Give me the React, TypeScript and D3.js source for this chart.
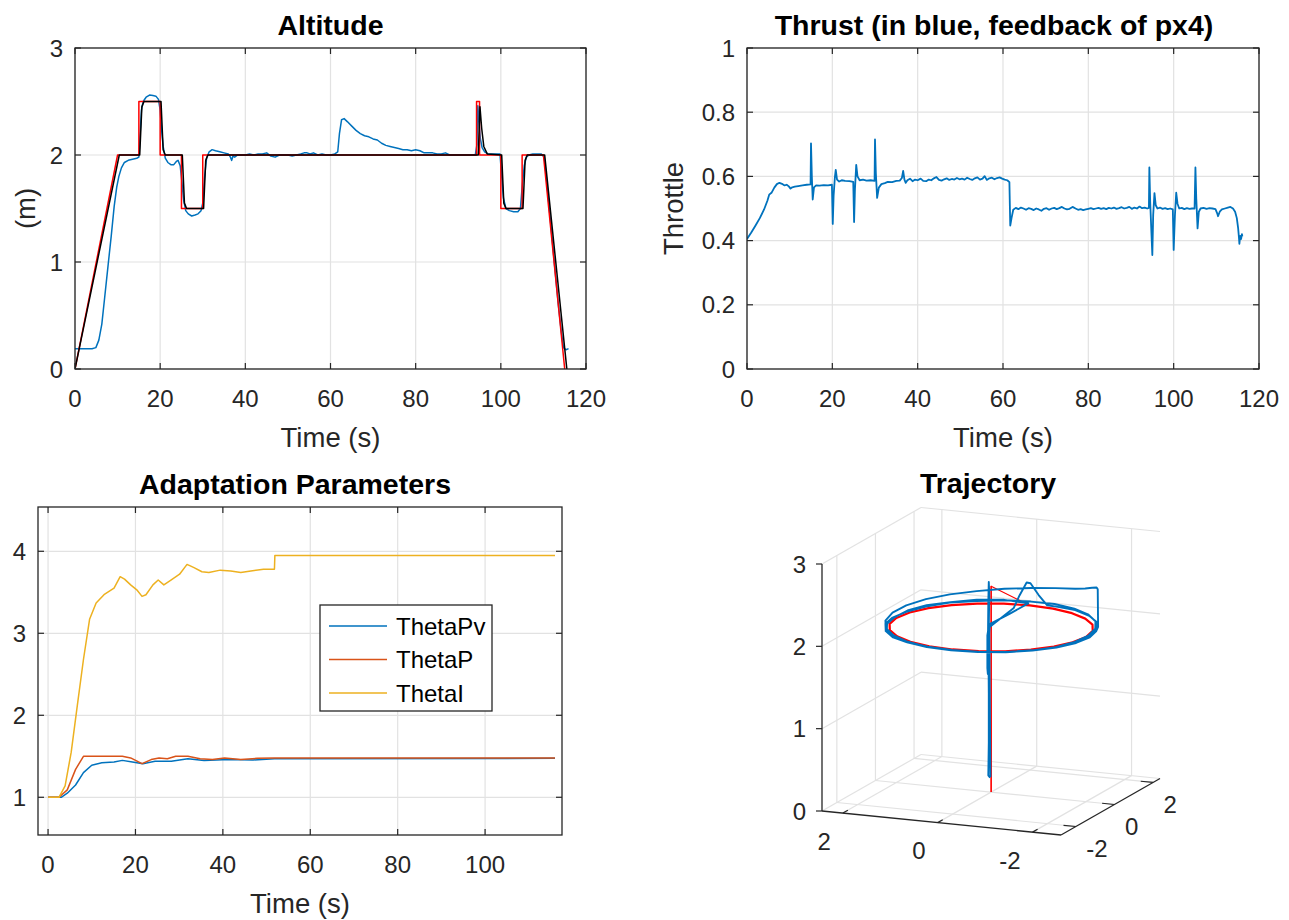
import React from 'react';
import * as d3 from 'd3';

const FONT = '"Liberation Sans", Arial, Helvetica, sans-serif';
const AX = '#262626';
const GRID = '#e2e2e2';
const BLUE = '#0072bd';
const ORANGE = '#d95319';
const YELLOW = '#edb120';
const RED = '#ff0000';

// ---------- Altitude ----------
const altXTicks = [0, 20, 40, 60, 80, 100, 120];
const altYTicks = [0, 1, 2, 3];
const altRef = [
  [0, 0], [10, 2], [15, 2], [15, 2.5], [20, 2.5], [20, 2], [25, 2], [25, 1.5], [30, 1.5], [30, 2],
  [94.3, 2], [94.3, 2.5], [95, 2.5], [95, 2], [100, 2], [100, 1.5], [105, 1.5], [105, 2], [110, 2], [115, 0],
];
const altFiltered = [
  [0, 0], [10.4, 2], [15.2, 2], [15.7, 2.45], [16.2, 2.5], [20.2, 2.5], [20.7, 2.05], [21.2, 2], [25.2, 2],
  [25.7, 1.55], [26.2, 1.5], [30.2, 1.5], [30.7, 1.95], [31.2, 2], [94.7, 2], [95.1, 2.45], [95.5, 2.25],
  [96, 2.08], [96.8, 2.01], [100.2, 2], [100.7, 1.55], [101.2, 1.5], [105.2, 1.5], [105.7, 1.95], [106.2, 2],
  [110.3, 2], [115.5, 0],
];
const altMeasured = [
  [0, 0.19], [2, 0.19], [4, 0.19], [4.9, 0.2], [5.6, 0.27], [6.3, 0.42], [7.0, 0.68], [7.8, 0.98], [8.5, 1.24],
  [9.2, 1.52], [9.8, 1.7], [10.3, 1.8], [10.9, 1.88], [11.6, 1.93], [12.5, 1.95], [13.5, 1.96], [14.5, 1.97],
  [15.0, 1.98], [15.3, 2.2], [15.6, 2.42], [16.0, 2.5], [16.7, 2.54], [17.5, 2.56], [18.3, 2.555], [19.0, 2.55],
  [19.6, 2.52], [20.0, 2.42], [20.3, 2.25], [20.7, 2.08], [21.2, 1.97], [21.8, 1.93], [22.5, 1.91], [23.2, 1.91],
  [23.8, 1.94], [24.2, 1.95], [24.7, 1.9], [25.1, 1.75], [25.5, 1.58], [26.0, 1.48], [26.6, 1.45], [27.4, 1.43],
  [28.2, 1.44], [28.9, 1.45], [29.6, 1.48], [30.0, 1.55], [30.4, 1.78], [30.9, 1.97], [31.5, 2.03], [32.2, 2.05],
  [33.0, 2.04], [34.0, 2.03], [35.0, 2.02], [36.0, 2.01], [36.5, 1.98], [36.8, 1.95], [37.1, 1.99], [37.5, 1.98],
  [38.2, 2.0], [39.0, 2.0], [40.0, 2.0], [41.0, 2.01], [42.0, 2.0], [43.0, 2.01], [44.0, 2.01], [45.0, 2.02],
  [46.0, 1.99], [47.0, 1.98], [48.0, 2.0], [49.0, 2.0], [50.0, 2.0], [51.0, 1.99], [52.0, 2.0], [53.0, 2.01],
  [53.8, 2.02], [54.5, 2.02], [55.2, 2.01], [56.0, 2.02], [57.0, 2.0], [58.0, 2.01], [59.0, 2.0], [60.0, 2.0],
  [61.0, 2.01], [61.7, 2.03], [62.1, 2.2], [62.6, 2.33], [63.2, 2.34], [64.0, 2.31], [65.0, 2.27], [66.0, 2.23],
  [67.0, 2.2], [68.0, 2.18], [69.0, 2.17], [70.0, 2.15], [71.0, 2.14], [72.0, 2.11], [73.0, 2.09], [74.0, 2.08],
  [75.0, 2.07], [76.0, 2.06], [77.0, 2.05], [78.0, 2.05], [79.0, 2.04], [80.0, 2.05], [81.0, 2.04], [82.0, 2.02],
  [83.0, 2.02], [84.0, 2.02], [85.0, 2.01], [86.0, 2.01], [87.0, 2.02], [88.0, 2.0], [90.0, 2.0], [92.0, 2.0],
  [94.0, 2.0], [94.4, 2.1], [94.6, 2.46], [94.9, 2.3], [95.2, 2.15], [95.6, 2.07], [96.2, 2.03], [97.0, 2.01],
  [98.0, 2.01], [99.0, 2.01], [99.8, 2.01], [100.2, 1.8], [100.6, 1.6], [101.2, 1.5], [102.0, 1.48], [103.0, 1.47],
  [104.0, 1.47], [104.6, 1.5], [105.0, 1.7], [105.5, 1.9], [106.0, 1.98], [106.6, 2.0], [107.5, 2.01], [108.5, 2.01],
  [109.5, 2.01], [110.2, 1.98], [110.8, 1.75], [111.5, 1.45], [112.5, 1.02], [113.5, 0.6], [114.2, 0.35],
  [114.7, 0.2], [115.3, 0.18], [115.9, 0.19],
];

// ---------- Thrust ----------
const thrXTicks = [0, 20, 40, 60, 80, 100, 120];
const thrYTicks = [0, 0.2, 0.4, 0.6, 0.8, 1];
const thrust = [
  [0.0, 0.405], [1.0, 0.425], [2.0, 0.447], [3.0, 0.47], [4.0, 0.497], [4.8, 0.525], [5.2, 0.543], [5.8, 0.55],
  [6.4, 0.565], [7.0, 0.576], [7.6, 0.58], [8.2, 0.577], [8.8, 0.572], [9.3, 0.574], [9.8, 0.569], [10.2, 0.562],
  [10.6, 0.566], [11.2, 0.568], [12.0, 0.57], [13.0, 0.572], [14.0, 0.574], [14.9, 0.575], [15.0, 0.703],
  [15.2, 0.6], [15.4, 0.528], [15.7, 0.566], [16.2, 0.572], [17.0, 0.571], [18.0, 0.573], [19.0, 0.572],
  [19.9, 0.574], [20.1, 0.452], [20.3, 0.54], [20.6, 0.598], [20.8, 0.62], [21.1, 0.59], [21.6, 0.584],
  [22.2, 0.588], [23.0, 0.586], [24.0, 0.585], [24.9, 0.583], [25.1, 0.458], [25.3, 0.56], [25.6, 0.636],
  [25.9, 0.6], [26.4, 0.588], [27.2, 0.59], [28.0, 0.587], [29.0, 0.588], [29.9, 0.586], [30.0, 0.715],
  [30.2, 0.61], [30.5, 0.533], [30.9, 0.565], [31.5, 0.576], [32.3, 0.579], [33.0, 0.583], [34.0, 0.582],
  [35.0, 0.586], [35.8, 0.587], [36.3, 0.595], [36.6, 0.617], [36.9, 0.59], [37.2, 0.58], [37.6, 0.588],
  [38.2, 0.593], [38.8, 0.585], [39.4, 0.59], [40.0, 0.588], [40.7, 0.593], [41.3, 0.586], [42.0, 0.585],
  [42.6, 0.59], [43.2, 0.588], [43.8, 0.594], [44.4, 0.598], [45.0, 0.589], [45.6, 0.587], [46.2, 0.591],
  [46.8, 0.594], [47.4, 0.589], [48.0, 0.592], [48.6, 0.59], [49.2, 0.595], [49.8, 0.591], [50.4, 0.593],
  [51.0, 0.59], [51.6, 0.596], [52.2, 0.592], [52.8, 0.589], [53.4, 0.594], [54.0, 0.597], [54.6, 0.59],
  [55.2, 0.593], [55.7, 0.601], [56.2, 0.589], [56.8, 0.594], [57.4, 0.596], [58.0, 0.591], [58.6, 0.595],
  [59.2, 0.597], [59.8, 0.593], [60.4, 0.59], [61.0, 0.588], [61.5, 0.582], [61.7, 0.447], [62.0, 0.47],
  [62.4, 0.496], [63.0, 0.502], [63.6, 0.498], [64.2, 0.503], [64.8, 0.5], [65.4, 0.496], [66.0, 0.501],
  [66.6, 0.499], [67.2, 0.495], [67.8, 0.5], [68.4, 0.497], [69.0, 0.493], [69.6, 0.499], [70.2, 0.501],
  [70.8, 0.496], [71.4, 0.5], [72.0, 0.502], [72.6, 0.498], [73.2, 0.501], [73.8, 0.505], [74.4, 0.5],
  [75.0, 0.497], [75.6, 0.499], [76.3, 0.505], [77.0, 0.5], [77.6, 0.496], [78.2, 0.498], [78.8, 0.495],
  [79.4, 0.497], [80.0, 0.499], [80.6, 0.501], [81.2, 0.498], [81.8, 0.5], [82.4, 0.502], [83.0, 0.499],
  [83.6, 0.501], [84.2, 0.498], [84.8, 0.502], [85.4, 0.5], [86.0, 0.503], [86.6, 0.499], [87.2, 0.501],
  [87.8, 0.504], [88.4, 0.5], [89.0, 0.502], [89.6, 0.505], [90.2, 0.499], [90.8, 0.503], [91.4, 0.5],
  [92.0, 0.506], [92.6, 0.501], [93.2, 0.503], [93.8, 0.5], [94.2, 0.502], [94.3, 0.628], [94.5, 0.52],
  [94.8, 0.42], [95.0, 0.355], [95.2, 0.48], [95.5, 0.548], [95.8, 0.51], [96.2, 0.5], [96.8, 0.503],
  [97.4, 0.499], [98.0, 0.501], [98.6, 0.498], [99.2, 0.5], [99.8, 0.497], [100.0, 0.371], [100.3, 0.48],
  [100.6, 0.549], [100.9, 0.515], [101.3, 0.5], [101.9, 0.502], [102.5, 0.498], [103.1, 0.501], [103.7, 0.499],
  [104.3, 0.5], [104.9, 0.5], [105.1, 0.628], [105.3, 0.53], [105.6, 0.438], [105.9, 0.49], [106.3, 0.5],
  [107.0, 0.502], [107.7, 0.499], [108.4, 0.501], [109.1, 0.5], [109.8, 0.498], [110.2, 0.485], [110.4, 0.476],
  [110.8, 0.49], [111.3, 0.497], [112.0, 0.5], [112.7, 0.503], [113.3, 0.505], [113.9, 0.5], [114.4, 0.49],
  [114.8, 0.47], [115.1, 0.44], [115.3, 0.41], [115.4, 0.39], [115.6, 0.415], [115.8, 0.405], [116.0, 0.42],
  [116.1, 0.413],
];

// ---------- Adaptation parameters ----------
const adaXTicks = [0, 20, 40, 60, 80, 100];
const adaYTicks = [1, 2, 3, 4];
const legendNames = ['ThetaPv', 'ThetaP', 'ThetaI'];
const thetaPv = [
  [0, 1], [3.0, 1], [4.4, 1.05], [6.3, 1.15], [8.1, 1.3], [10, 1.39], [12.3, 1.42], [15.1, 1.43], [17, 1.45],
  [19.3, 1.43], [21.7, 1.41], [24.5, 1.44], [28.2, 1.44], [32, 1.47], [35.7, 1.45], [41.3, 1.46], [46.9, 1.455],
  [51.8, 1.47], [116, 1.475],
];
const thetaP = [
  [0, 1], [2.5, 1], [4.4, 1.09], [6.3, 1.34], [8.1, 1.5], [17, 1.5], [18.9, 1.48], [21.5, 1.41], [23.6, 1.46],
  [25.4, 1.48], [27.3, 1.47], [29.2, 1.5], [32, 1.5], [34.8, 1.47], [37.6, 1.46], [40.4, 1.48], [44.1, 1.46],
  [47.9, 1.475], [51.8, 1.48], [116, 1.48],
];
const thetaI = [
  [0, 1], [2.5, 1], [3.9, 1.14], [5.3, 1.55], [6.7, 2.12], [8.1, 2.68], [9.5, 3.17], [11.0, 3.37], [12.8, 3.47],
  [15.1, 3.55], [16.5, 3.69], [17.5, 3.66], [18.9, 3.59], [20.3, 3.53], [21.5, 3.45], [22.4, 3.47], [24.0, 3.59],
  [25.2, 3.65], [26.5, 3.59], [28.2, 3.65], [30.1, 3.72], [31.8, 3.84], [33.4, 3.8], [35.2, 3.75], [36.8, 3.74],
  [39.4, 3.77], [41.8, 3.76], [44.1, 3.74], [46.4, 3.76], [49.3, 3.78], [51.8, 3.78], [51.9, 3.95], [116, 3.95],
];

// ---------- Trajectory (x, y, z) ----------
const trajTicks = [-2, 0, 2];
const trajZTicks = [0, 1, 2, 3];
const refClimb = [[0, 0, 0], [0, 0, 2], [0, 0, 2.5], [0, 0, 2], [0, 0, 1.5], [0, 0, 2]];
const refCircle = [
  [0, 2, 2], [0.52, 1.93, 2], [1, 1.73, 2], [1.41, 1.41, 2], [1.73, 1, 2], [1.93, 0.52, 2], [2, 0, 2],
  [1.93, -0.52, 2], [1.73, -1, 2], [1.41, -1.41, 2], [1, -1.73, 2], [0.52, -1.93, 2], [0, -2, 2],
  [-0.52, -1.93, 2], [-1, -1.73, 2], [-1.41, -1.41, 2], [-1.73, -1, 2], [-1.93, -0.52, 2], [-2, 0, 2],
  [-1.93, 0.52, 2], [-1.73, 1, 2], [-1.41, 1.41, 2], [-1, 1.73, 2], [-0.52, 1.93, 2], [0, 2, 2],
];
const refReturn = [[0, 2, 2], [0, 0, 2.5], [0, 0, 2], [0, 0, 1.5], [0, 0, 2], [0, 0, 0]];
const measTraj = [
  [0.03, 0.02, 0.17], [0.06, 0, 0.2], [0.05, 0, 0.6], [0.05, 0, 1.2], [0.06, 0, 1.96], [0.05, 0, 1.98],
  [0.04, 0, 2.4], [0.05, 0, 2.55], [0.06, 0, 2.3], [0.07, 0.01, 1.95], [0.08, 0, 1.9], [0.08, 0, 1.5],
  [0.07, 0, 1.43], [0.06, 0, 1.48], [0.05, 0.01, 2.0], [0.03, 0.02, 2.04], [0.02, 1.0, 2.03], [0.04, 2.02, 2.02],
  [0.53, 1.98, 2.04], [1.03, 1.78, 2.04], [1.45, 1.45, 2.03], [1.78, 1.03, 2.03], [1.98, 0.53, 2.02], [2.05, 0, 2.0],
  [1.98, -0.53, 2.0], [1.78, -1.03, 2.0], [1.45, -1.45, 2.0], [1.03, -1.78, 2.0], [0.53, -1.98, 2.0], [0, -2.05, 2.0],
  [-0.53, -1.98, 2.0], [-1.03, -1.78, 2.0], [-1.45, -1.45, 2.0], [-1.78, -1.03, 2.0], [-1.98, -0.53, 2.01],
  [-2.05, 0, 2.02], [-1.98, 0.53, 2.03], [-1.78, 1.03, 2.04], [-1.45, 1.45, 2.05], [-1.03, 1.78, 2.05],
  [-0.53, 1.98, 2.05], [0, 2.05, 2.04],
  [0.54, 2.01, 2.03], [1.04, 1.8, 2.02], [1.47, 1.47, 2.02], [1.8, 1.04, 2.01], [2.01, 0.54, 2.0], [2.08, 0, 2.0],
  [2.01, -0.54, 2.0], [1.8, -1.04, 1.99], [1.47, -1.47, 1.99], [1.04, -1.8, 2.0], [0.54, -2.01, 2.0], [0, -2.08, 2.0],
  [-0.54, -2.01, 2.0], [-1.04, -1.8, 2.0], [-1.47, -1.47, 2.0], [-1.8, -1.04, 2.0], [-2.01, -0.54, 2.0],
  [-2.08, 0, 2.0], [-2.03, 0.45, 2.01], [-1.95, 0.75, 2.02],
  [-1.93, 0.78, 2.47], [-1.8, 1.04, 2.45], [-1.6, 1.3, 2.4], [-1.34, 1.58, 2.34], [-1.04, 1.8, 2.29],
  [-0.54, 2.01, 2.24], [0, 2.08, 2.2], [0.54, 2.01, 2.17], [1.04, 1.8, 2.14], [1.47, 1.47, 2.12], [1.8, 1.04, 2.1],
  [2.01, 0.54, 2.08], [2.08, 0, 2.06], [2.01, -0.54, 2.04], [1.8, -1.04, 2.03], [1.47, -1.47, 2.02],
  [1.04, -1.8, 2.01], [0.54, -2.01, 2.0], [0, -2.08, 2.0], [-0.54, -2.01, 2.0], [-1.04, -1.8, 2.0],
  [-1.47, -1.47, 2.0], [-1.8, -1.04, 2.0], [-2.01, -0.54, 2.0], [-2.08, 0, 2.01], [-2.01, 0.54, 2.02],
  [-1.8, 1.04, 2.03], [-1.47, 1.47, 2.03], [-1.04, 1.8, 2.03], [-0.6, 1.98, 2.02], [-0.36, 2.02, 2.02],
  [-0.35, 1.6, 2.2], [-0.3, 1.3, 2.38], [-0.26, 1.2, 2.4], [-0.15, 1.1, 2.25], [-0.05, 1.05, 2.1],
  [0.04, 0.02, 2.0],
  [0.06, 0, 1.7], [0.07, 0, 1.47], [0.06, 0.01, 1.5], [0.05, 0, 1.98], [0.04, 0, 2.0], [0.03, 0, 1.2],
  [0.02, 0, 0.5], [0.02, 0.01, 0.18],
];

type Box = { left: number; right: number; top: number; bottom: number };
type Series = { pts: number[][]; color: string; width?: number };

const fmt = d3.format('~g');

function Axes2D(props: {
  id: string;
  box: Box;
  xDom: number[];
  yDom: number[];
  xTicks: number[];
  yTicks: number[];
  title: string;
  titleX?: number;
  xLabel: string;
  yLabel?: string;
  yLabelX?: number;
  series: Series[];
  children?: React.ReactNode;
}) {
  const { id, box, xDom, yDom, xTicks, yTicks, title, xLabel, yLabel, series } = props;
  const x = d3.scaleLinear().domain(xDom).range([box.left, box.right]);
  const y = d3.scaleLinear().domain(yDom).range([box.bottom, box.top]);
  const line = d3.line<number[]>().x((d) => x(d[0])).y((d) => y(d[1]));
  const cx = (box.left + box.right) / 2;
  const cy = (box.top + box.bottom) / 2;
  const tk = 6;
  return (
    <g>
      <defs>
        <clipPath id={id}>
          <rect x={box.left} y={box.top} width={box.right - box.left} height={box.bottom - box.top} />
        </clipPath>
      </defs>
      <rect x={box.left} y={box.top} width={box.right - box.left} height={box.bottom - box.top} fill="#fff" />
      {xTicks.map((t) => (
        <line key={'gx' + t} x1={x(t)} x2={x(t)} y1={box.top} y2={box.bottom} stroke={GRID} strokeWidth={1.2} />
      ))}
      {yTicks.map((t) => (
        <line key={'gy' + t} x1={box.left} x2={box.right} y1={y(t)} y2={y(t)} stroke={GRID} strokeWidth={1.2} />
      ))}
      <g clipPath={`url(#${id})`}>
        {series.map((s, i) => (
          <path key={i} d={line(s.pts) || ''} fill="none" stroke={s.color} strokeWidth={s.width || 1.5} strokeLinejoin="round" />
        ))}
      </g>
      {xTicks.map((t) => (
        <g key={'tx' + t}>
          <line x1={x(t)} x2={x(t)} y1={box.bottom} y2={box.bottom - tk} stroke={AX} strokeWidth={1.2} />
          <line x1={x(t)} x2={x(t)} y1={box.top} y2={box.top + tk} stroke={AX} strokeWidth={1.2} />
          <text x={x(t)} y={box.bottom + 38} textAnchor="middle" fontSize={24} fill={AX}>{fmt(t)}</text>
        </g>
      ))}
      {yTicks.map((t) => (
        <g key={'ty' + t}>
          <line x1={box.left} x2={box.left + tk} y1={y(t)} y2={y(t)} stroke={AX} strokeWidth={1.2} />
          <line x1={box.right} x2={box.right - tk} y1={y(t)} y2={y(t)} stroke={AX} strokeWidth={1.2} />
          <text x={box.left - 12} y={y(t)} dy="0.36em" textAnchor="end" fontSize={24} fill={AX}>{fmt(t)}</text>
        </g>
      ))}
      <rect x={box.left} y={box.top} width={box.right - box.left} height={box.bottom - box.top} fill="none" stroke={AX} strokeWidth={1.3} />
      <text x={props.titleX ?? cx} y={box.top - 13} textAnchor="middle" fontSize={28.5} fontWeight="bold" fill="#000">{title}</text>
      <text x={cx} y={box.bottom + 78} textAnchor="middle" fontSize={27.5} fill={AX}>{xLabel}</text>
      {yLabel && (
        <text transform={`translate(${props.yLabelX},${cy}) rotate(-90)`} dy="0.36em" textAnchor="middle" fontSize={27.5} fill={AX}>{yLabel}</text>
      )}
      {props.children}
    </g>
  );
}

function Legend(props: { x: number; y: number; w: number; h: number; names: string[]; colors: string[] }) {
  const { x, y, w, h, names, colors } = props;
  const row = d3.scalePoint().domain(names).range([y + 21, y + h - 18]);
  return (
    <g>
      <rect x={x} y={y} width={w} height={h} fill="#fff" stroke={AX} strokeWidth={1.3} />
      {names.map((n, i) => (
        <g key={n}>
          <line x1={x + 9} x2={x + 67} y1={row(n)} y2={row(n)} stroke={colors[i]} strokeWidth={1.5} />
          <text x={x + 76} y={row(n)} dy="0.36em" fontSize={24} fill="#000">{n}</text>
        </g>
      ))}
    </g>
  );
}

function Trajectory3D() {
  // screen corners of the box floor: A = (xMax, yMin), B = (xMin, yMin), D = (xMax, yMax)
  const A = [822, 811];
  const B = [1061, 835];
  const D = [921, 754.5];
  const zH = 247;
  const xLim = [-2.6, 2.44];
  const yLim = [-2.77, 2.36];
  const fx = d3.scaleLinear().domain([xLim[1], xLim[0]]).range([0, 1]);
  const fy = d3.scaleLinear().domain([yLim[0], yLim[1]]).range([0, 1]);
  const fz = d3.scaleLinear().domain([0, 3]).range([0, zH]);
  const P = (p: number[]): [number, number] => {
    const a = fx(p[0]);
    const b = fy(p[1]);
    return [
      A[0] + a * (B[0] - A[0]) + b * (D[0] - A[0]),
      A[1] + a * (B[1] - A[1]) + b * (D[1] - A[1]) - fz(p[2]),
    ];
  };
  const line = d3.line<number[]>().x((d) => P(d)[0]).y((d) => P(d)[1]);
  const seg = (p: number[], q: number[], stroke: string, w: number, key: string) => {
    const [x1, y1] = P(p);
    const [x2, y2] = P(q);
    return <line key={key} x1={x1} y1={y1} x2={x2} y2={y2} stroke={stroke} strokeWidth={w} />;
  };
  const [x0, x1] = xLim;
  const [y0, y1] = yLim;
  const grid: React.ReactNode[] = [];
  trajTicks.forEach((v) => {
    grid.push(seg([v, y0, 0], [v, y1, 0], GRID, 1.2, 'fx' + v));
    grid.push(seg([x0, v, 0], [x1, v, 0], GRID, 1.2, 'fy' + v));
    grid.push(seg([x1, v, 0], [x1, v, 3], GRID, 1.2, 'wy' + v));
    grid.push(seg([v, y1, 0], [v, y1, 3], GRID, 1.2, 'wx' + v));
  });
  trajZTicks.forEach((v) => {
    grid.push(seg([x1, y0, v], [x1, y1, v], GRID, 1.2, 'za' + v));
    grid.push(seg([x1, y1, v], [x0, y1, v], GRID, 1.2, 'zb' + v));
  });
  const tl = 0.13;
  return (
    <g>
      {grid}
      {seg([x1, y0, 0], [x0, y0, 0], AX, 1.3, 'ax')}
      {seg([x0, y0, 0], [x0, y1, 0], AX, 1.3, 'ay')}
      {seg([x1, y0, 0], [x1, y0, 3], AX, 1.3, 'az')}
      {trajTicks.map((v) => {
        const [tx, ty] = P([v, y0, 0]);
        return (
          <g key={'xt' + v}>
            {seg([v, y0, 0], [v, y0 + tl * 2, 0], AX, 1.2, 'xtk')}
            <text x={tx - 12} y={ty + 28} dy="0.36em" textAnchor="end" fontSize={24} fill={AX}>{String(v)}</text>
          </g>
        );
      })}
      {trajTicks.map((v) => {
        const [tx, ty] = P([x0, v, 0]);
        return (
          <g key={'yt' + v}>
            {seg([x0, v, 0], [x0 + tl * 2, v, 0], AX, 1.2, 'ytk')}
            <text x={tx + 10.5} y={ty + 22} dy="0.36em" textAnchor="start" fontSize={24} fill={AX}>{String(v)}</text>
          </g>
        );
      })}
      {trajZTicks.map((v) => {
        const [tx, ty] = P([x1, y0, v]);
        return (
          <g key={'zt' + v}>
            <line x1={tx} x2={tx - 6} y1={ty} y2={ty} stroke={AX} strokeWidth={1.2} />
            <text x={tx - 16} y={ty} dy="0.36em" textAnchor="end" fontSize={24} fill={AX}>{String(v)}</text>
          </g>
        );
      })}
      <path d={line(refCircle) || ''} fill="none" stroke={RED} strokeWidth={2.2} strokeLinejoin="round" />
      {[refClimb, refReturn].map((r, i) => (
        <path key={'r' + i} d={line(r) || ''} fill="none" stroke={RED} strokeWidth={1.2} strokeLinejoin="round" />
      ))}
      <path d={line(measTraj) || ''} fill="none" stroke={BLUE} strokeWidth={1.9} strokeLinejoin="round" />
      <text x={988} y={493} textAnchor="middle" fontSize={28.5} fontWeight="bold" fill="#000">Trajectory</text>
    </g>
  );
}

export default function App() {
  return (
    <svg
      width={1289}
      height={920}
      style={{ position: 'absolute', left: 0, top: 0, background: '#fff' }}
      fontFamily={FONT}
    >
      <Axes2D
        id="alt"
        box={{ left: 75, right: 586, top: 48, bottom: 369 }}
        xDom={[0, 120]}
        yDom={[0, 3]}
        xTicks={altXTicks}
        yTicks={altYTicks}
        title="Altitude"
        xLabel="Time (s)"
        yLabel="(m)"
        yLabelX={25}
        series={[
          { pts: altMeasured, color: BLUE },
          { pts: altRef, color: RED },
          { pts: altFiltered, color: '#000' },
        ]}
      />
      <Axes2D
        id="thr"
        box={{ left: 747, right: 1259, top: 48, bottom: 369 }}
        xDom={[0, 120]}
        yDom={[0, 1]}
        xTicks={thrXTicks}
        yTicks={thrYTicks}
        title="Thrust (in blue, feedback of px4)"
        titleX={994}
        xLabel="Time (s)"
        yLabel="Throttle"
        yLabelX={673}
        series={[{ pts: thrust, color: BLUE, width: 1.8 }]}
      />
      <Axes2D
        id="ada"
        box={{ left: 38, right: 562, top: 507, bottom: 835 }}
        xDom={[-2.3, 117.6]}
        yDom={[0.54, 4.54]}
        xTicks={adaXTicks}
        yTicks={adaYTicks}
        title="Adaptation Parameters"
        titleX={295}
        xLabel="Time (s)"
        series={[
          { pts: thetaPv, color: BLUE },
          { pts: thetaP, color: ORANGE },
          { pts: thetaI, color: YELLOW },
        ]}
      >
        <Legend x={320} y={605} w={172} h={106} names={legendNames} colors={[BLUE, ORANGE, YELLOW]} />
      </Axes2D>
      <Trajectory3D />
    </svg>
  );
}
